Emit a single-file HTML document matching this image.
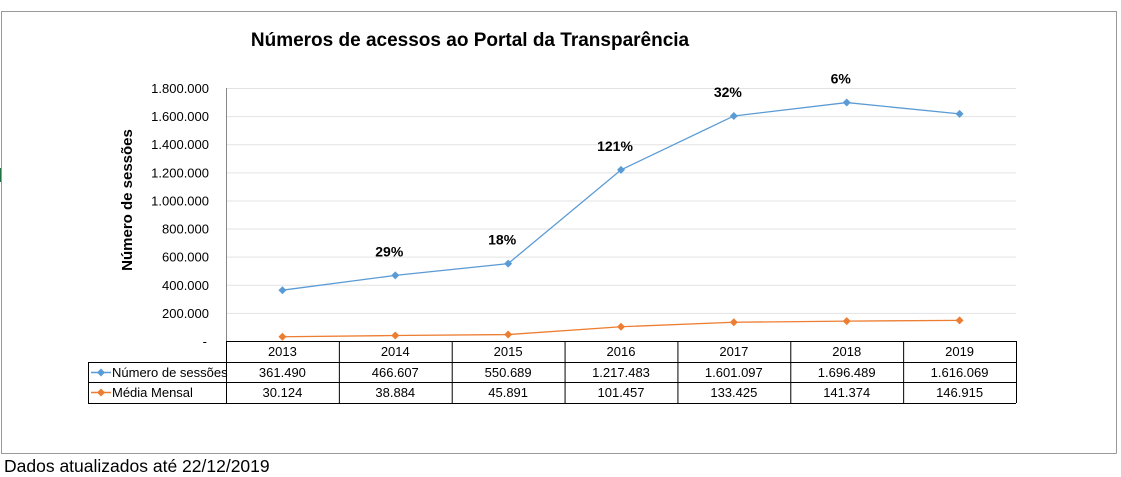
<!DOCTYPE html>
<html><head><meta charset="utf-8"><style>
body{margin:0;background:#fff;width:1121px;height:477px;overflow:hidden;font-family:"Liberation Sans",Calibri,sans-serif}
svg{position:absolute;left:0;top:0}
</style></head><body>
<svg width="1121" height="477">
<rect x="0" y="168" width="2" height="14" fill="#217346"/>
<line x1="1.5" y1="11" x2="1.5" y2="453.5" stroke="#999"/>
<line x1="1" y1="11.5" x2="1116.5" y2="11.5" stroke="#999"/>
<line x1="1116.5" y1="11" x2="1116.5" y2="453.5" stroke="#999"/>
<line x1="1" y1="453.5" x2="1116.5" y2="453.5" stroke="#999"/>
<text x="470" y="46" text-anchor="middle" font-size="19" font-weight="bold">Números de acessos ao Portal da Transparência</text>
<text transform="translate(132,200) rotate(-90)" text-anchor="middle" font-size="15" font-weight="bold">Número de sessões</text>
<g id="grid"></g><g id="yt"></g><g id="tbl"></g><g id="series"></g>
<text x="4" y="472" font-size="17.5">Dados atualizados até 22/12/2019</text>
</svg>
<script>
const categories=["2013","2014","2015","2016","2017","2018","2019"];
const sessions=[361490,466607,550689,1217483,1601097,1696489,1616069];
const monthly=[30124,38884,45891,101457,133425,141374,146915];
const pctLabels=["","29%","18%","121%","32%","6%",""];
const yTicks=[0,200000,400000,600000,800000,1000000,1200000,1400000,1600000,1800000];
const NS="http://www.w3.org/2000/svg";
const x0=226,x1=1016,y0=341,y1=88,ymax=1800000;
const bw=(x1-x0)/categories.length;
const X=i=>x0+bw*(i+0.5);
const Y=v=>y0-(v/ymax)*(y0-y1);
const fmt=v=>v===0?"-":v.toLocaleString("de-DE");
function mk(t,a,p){const e=document.createElementNS(NS,t);for(const k in a)e.setAttribute(k,a[k]);p.appendChild(e);return e;}
const g=document.getElementById("grid"),yt=document.getElementById("yt"),tb=document.getElementById("tbl"),sr=document.getElementById("series");
yTicks.forEach(v=>{
 if(v>0){const l=mk("line",{x1:x0,x2:x1,y1:Y(v)+.5,y2:Y(v)+.5,stroke:"#e3e3e3"},g);
 
 }
 const t=mk("text",{x:v===0?207:209,y:Y(v)+5,"text-anchor":"end","font-size":"13"},yt);t.textContent=fmt(v);
 
 
});
const ax=mk("line",{x1:x0+.5,x2:x0+.5,y1:y1,y2:y0,stroke:"#888"},g);


const L=88,r0=341;
const rows=[r0,r0+21,r0+41,r0+62];
function ln(a,b,c,d){const l=mk("line",{x1:a,y1:b,x2:c,y2:d,stroke:"#000"},tb);}
ln(x0,rows[0]+.5,x1,rows[0]+.5);
ln(L,rows[1]+.5,x1,rows[1]+.5);ln(L,rows[2]+.5,x1,rows[2]+.5);ln(L,rows[3]+.5,x1,rows[3]+.5);
ln(L+.5,rows[1],L+.5,rows[3]);
for(let i=0;i<=categories.length;i++){ln(x0+bw*i+.5,rows[0],x0+bw*i+.5,rows[3]);}
categories.forEach((c,i)=>{
 const t=mk("text",{x:X(i),y:rows[0]+15,"text-anchor":"middle","font-size":"13"},tb);t.textContent=c;
 
 const a=mk("text",{x:X(i),y:rows[1]+15,"text-anchor":"middle","font-size":"13"},tb);a.textContent=fmt(sessions[i]);
 
 const b=mk("text",{x:X(i),y:rows[2]+15,"text-anchor":"middle","font-size":"13"},tb);b.textContent=fmt(monthly[i]);
 
});
function legend(row,color,label,name){
 const y=rows[row]+10.5;
 mk("line",{x1:91,x2:111,y1:y,y2:y,stroke:color,"stroke-width":1.5},tb);
 mk("path",{d:`M101 ${y-4}L105 ${y}L101 ${y+4}L97 ${y}Z`,fill:color},tb);
 const t=mk("text",{x:112,y:rows[row]+15,"font-size":"13"},tb);t.textContent=label;
 
}
legend(1,"#5b9bd5","Número de sessões","legend-sessions");
legend(2,"#ed7d31","Média Mensal","legend-monthly");
function series(vals,color,name){
 const p=mk("polyline",{points:vals.map((v,i)=>X(i)+","+Y(v)).join(" "),fill:"none",stroke:color,"stroke-width":1.3},sr);
 
 vals.forEach((v,i)=>{const x=X(i),y=Y(v);
  const d=mk("path",{d:`M${x} ${y-4}L${x+4} ${y}L${x} ${y+4}L${x-4} ${y}Z`,fill:color},sr);
  });
}
series(sessions,"#5b9bd5","sessions");
series(monthly,"#ed7d31","monthly");
pctLabels.forEach((p,i)=>{if(!p)return;
 const t=mk("text",{x:X(i)-6,y:Y(sessions[i])-19,"text-anchor":"middle","font-size":"14","font-weight":"bold"},sr);t.textContent=p;
 });
</script>
</body></html>
